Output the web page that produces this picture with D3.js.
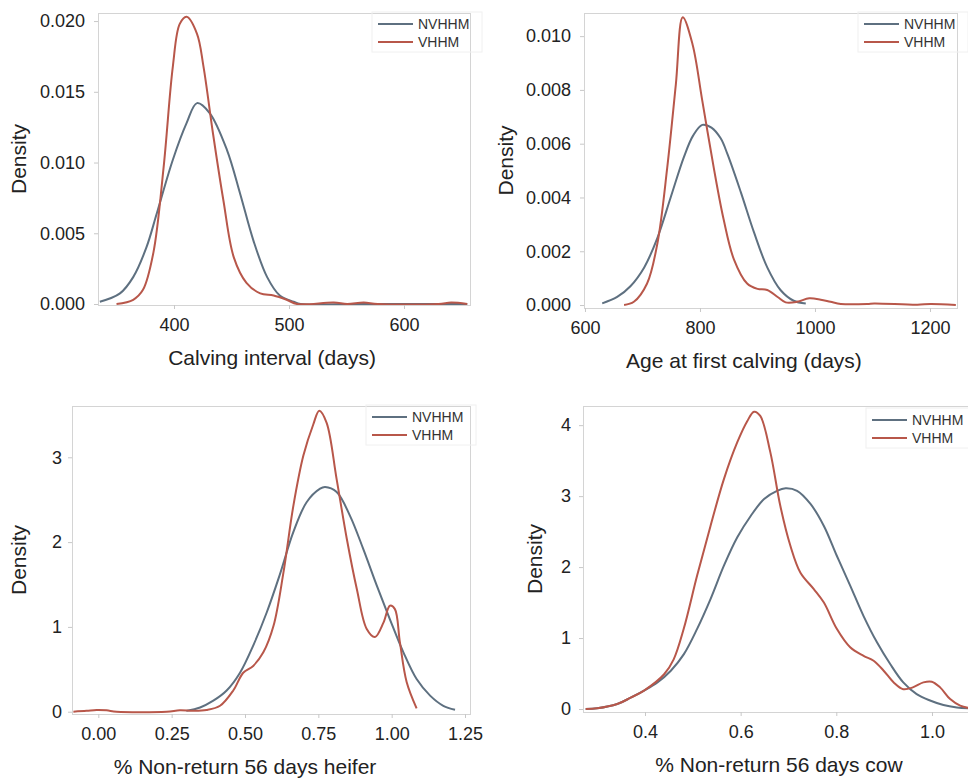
<!DOCTYPE html>
<html>
<head>
<meta charset="utf-8">
<script src="https://cdn.jsdelivr.net/npm/d3@7"></script>
<style>
  body { margin: 0; background: #fff; }
  svg { display: block; font-family: "Liberation Sans", Arial, sans-serif; }
  .frame { fill: none; stroke: #d4d4d4; stroke-width: 1; }
  .tick line { stroke: #c8c8c8; }
  .tick text { fill: #222; font-size: 18px; }
  .title { fill: #222; font-size: 21px; }
  .leg text { fill: #333; font-size: 14px; }
</style>
</head>
<body>
<div id="chart"></div>
<script>
// ---- data (x, density) ----
var seriesNames = ["NVHHM", "VHHM"];
var seriesColors = ["#5e7080", "#b8574a"];

// Calving interval (days)
var calvNV = [[335.5,0.00016],[353,0.00075],[364.5,0.0019],[376,0.004],[385,0.0064],[399,0.0102],[411,0.0128],[420,0.0142],[431,0.0135],[446,0.0109],[457.5,0.0078],[469,0.0045],[481,0.0019],[492,0.0006],[504,0.00016],[510,0],[560,0],[610,0],[655,0]];
var calvV = [[350,0],[364.5,0.0003],[373,0.001],[382,0.0036],[391,0.0097],[399,0.0168],[405,0.0198],[411,0.0203],[420,0.0191],[425.6,0.0168],[434,0.012],[443,0.0073],[452,0.0033],[463,0.0015],[475,0.00075],[486.6,0.0006],[498,0.0003],[507,0],[539,0.0001],[550.6,0],[565,0.0001],[577,0],[630,0],[641,0.0001],[655,0]];
var calvXTicks = [400, 500, 600];
var calvYTicks = [0, 0.005, 0.010, 0.015, 0.020];

// Age at first calving (days)
var afcNV = [[630,0.00006],[656,0.0003],[679,0.0007],[703,0.0014],[726,0.0025],[749,0.004],[772,0.0055],[788,0.0063],[804,0.0067],[820,0.0066],[836,0.0062],[848,0.0056],[871,0.0042],[894,0.0027],[917,0.0014],[940,0.00056],[963,0.00016],[984,0.00006]];
var afcV = [[668,0],[685,0.00012],[708,0.0008],[726,0.0023],[743,0.0051],[758,0.0082],[770,0.0107],[787,0.0097],[804,0.0076],[824,0.0051],[841,0.0032],[859,0.0017],[882,0.0008],[900,0.0006],[917,0.00056],[935,0.0003],[949,0.0001],[969,0.00012],[990,0.00025],[1010,0.0002],[1027,0.00012],[1045,0.00004],[1091,0.00004],[1103,0.00006],[1178,0.00001],[1201,0.00004],[1245,0]];
var afcXTicks = [600, 800, 1000, 1200];
var afcYTicks = [0, 0.002, 0.004, 0.006, 0.008, 0.010];

// % Non-return 56 days heifer
var heiferNV = [[0.30,0.01],[0.347,0.05],[0.392,0.13],[0.4375,0.25],[0.483,0.46],[0.528,0.78],[0.574,1.17],[0.619,1.62],[0.665,2.12],[0.710,2.47],[0.756,2.63],[0.773,2.65],[0.8125,2.59],[0.858,2.31],[0.903,1.92],[0.949,1.49],[0.994,1.09],[1.04,0.70],[1.085,0.385],[1.131,0.19],[1.176,0.07],[1.216,0.024]];
var heiferV = [[-0.085,0],[-0.04,0.01],[-0.006,0.02],[0.028,0.016],[0.0625,0],[0.233,0],[0.278,0.016],[0.324,0.01],[0.369,0.02],[0.415,0.07],[0.46,0.25],[0.494,0.46],[0.528,0.54],[0.5625,0.70],[0.597,1.01],[0.631,1.64],[0.665,2.43],[0.699,3.02],[0.733,3.39],[0.753,3.55],[0.778,3.41],[0.8125,2.74],[0.847,2.04],[0.881,1.45],[0.915,0.975],[0.943,0.88],[0.972,1.05],[0.994,1.25],[1.011,1.21],[1.028,0.82],[1.051,0.35],[1.085,0.04]];
var heiferXTicks = [0, 0.25, 0.50, 0.75, 1.00, 1.25];
var heiferYTicks = [0, 1, 2, 3];

// % Non-return 56 days cow
var cowNV = [[0.276,0],[0.30,0.01],[0.342,0.07],[0.37,0.16],[0.398,0.26],[0.426,0.375],[0.454,0.54],[0.481,0.77],[0.509,1.13],[0.537,1.55],[0.565,2.02],[0.593,2.42],[0.621,2.72],[0.649,2.96],[0.676,3.075],[0.694,3.11],[0.718,3.075],[0.746,2.89],[0.774,2.58],[0.801,2.16],[0.829,1.74],[0.857,1.31],[0.885,0.94],[0.913,0.63],[0.94,0.375],[0.968,0.21],[0.996,0.12],[1.024,0.056],[1.052,0.023],[1.08,0.01]];
var cowV = [[0.276,0],[0.30,0.01],[0.342,0.07],[0.37,0.16],[0.398,0.26],[0.44,0.49],[0.46,0.70],[0.481,1.13],[0.509,1.88],[0.537,2.58],[0.565,3.24],[0.593,3.76],[0.614,4.06],[0.628,4.19],[0.641,4.13],[0.662,3.62],[0.683,2.86],[0.704,2.30],[0.725,1.92],[0.753,1.69],[0.774,1.50],[0.801,1.13],[0.829,0.87],[0.857,0.75],[0.878,0.68],[0.899,0.54],[0.92,0.375],[0.94,0.28],[0.96,0.305],[0.982,0.375],[0.9996,0.385],[1.017,0.305],[1.038,0.14],[1.059,0.047],[1.08,0.01]];
var cowXTicks = [0.4, 0.6, 0.8, 1.0];
var cowYTicks = [0, 1, 2, 3, 4];

var W = 968, H = 778;
var svg = d3.select("#chart").append("svg").attr("width", W).attr("height", H);

/*
 * one panel: frame box, ticks, two density curves, legend
 */
function drawPanel(p, idx) {
    var x = d3.scaleLinear().domain(p.xDom).range([p.left, p.right]);
    var y = d3.scaleLinear().domain(p.yDom).range([p.bottom, p.top]);
    var g = svg.append("g");

    var clipId = "clip" + idx;
    g.append("clipPath").attr("id", clipId)
        .append("rect")
        .attr("x", p.left).attr("y", p.top)
        .attr("width", p.right - p.left).attr("height", p.bottom - p.top);

    g.append("rect").attr("class", "frame")
        .attr("x", p.left + 0.5).attr("y", p.top + 0.5)
        .attr("width", p.right - p.left).attr("height", p.bottom - p.top);

    // axes
    var xAxis = d3.axisBottom(x).tickValues(p.xTicks).tickFormat(d3.format(p.xFmt))
        .tickSize(4).tickPadding(9);
    g.append("g").attr("transform", "translate(0," + p.bottom + ")").call(xAxis)
        .call(function(a) { a.select(".domain").remove(); });

    var yAxis = d3.axisLeft(y).tickValues(p.yTicks).tickFormat(d3.format(p.yFmt))
        .tickSize(4).tickPadding(p.yPad);
    g.append("g").attr("transform", "translate(" + p.left + ",0)").call(yAxis)
        .call(function(a) { a.select(".domain").remove(); });

    g.selectAll(".tick text").style("font-family", null);

    // titles
    g.append("text").attr("class", "title")
        .attr("x", p.xTitleX).attr("y", p.bottom + 60)
        .attr("text-anchor", "middle").text(p.xTitle);
    g.append("text").attr("class", "title")
        .attr("transform", "translate(" + (p.left - p.yTitleOff) + "," + ((p.top + p.bottom) / 2) + ") rotate(-90)")
        .attr("text-anchor", "middle").text("Density");

    // curves
    var line = d3.line()
        .x(function(d) { return x(d[0]); })
        .y(function(d) { return y(d[1]); })
        .curve(d3.curveCatmullRom.alpha(0.5));

    var plot = g.append("g").attr("clip-path", "url(#" + clipId + ")");
    [p.nv, p.v].forEach(function(s, i) {
        plot.append("path").datum(s)
            .attr("d", line)
            .attr("fill", "none")
            .attr("stroke", seriesColors[i])
            .attr("stroke-width", 2)
            .attr("stroke-linejoin", "round");
    });

    // legend
    var leg = g.append("g").attr("class", "leg");
    leg.append("rect")
        .attr("x", p.legX - 6).attr("y", p.legY - 12)
        .attr("width", 110).attr("height", 40)
        .attr("fill", "none").attr("stroke", "#f0f0f0");
    seriesNames.forEach(function(name, i) {
        var ly = p.legY + i * 18;
        leg.append("line")
            .attr("x1", p.legX).attr("x2", p.legX + 35)
            .attr("y1", ly).attr("y2", ly)
            .attr("stroke", seriesColors[i]).attr("stroke-width", 2);
        leg.append("text")
            .attr("x", p.legX + 40).attr("y", ly + 5)
            .text(name);
    });
}

var panels = [
    { nv: calvNV, v: calvV, xTicks: calvXTicks, yTicks: calvYTicks, xFmt: "d", yFmt: ".3f",
      xDom: [333.9, 657.4], yDom: [-0.00007, 0.02057],
      left: 98, right: 470, top: 13, bottom: 305, yPad: 9, yTitleOff: 72,
      xTitle: "Calving interval (days)", xTitleX: 272, legX: 378, legY: 24 },
    { nv: afcNV, v: afcV, xTicks: afcXTicks, yTicks: afcYTicks, xFmt: "d", yFmt: ".3f",
      xDom: [598.3, 1247], yDom: [-0.00011, 0.01086],
      left: 584, right: 957, top: 13, bottom: 308, yPad: 9, yTitleOff: 71,
      xTitle: "Age at first calving (days)", xTitleX: 744, legX: 864, legY: 24 },
    { nv: heiferNV, v: heiferV, xTicks: heiferXTicks, yTicks: heiferYTicks, xFmt: ".2f", yFmt: "d",
      xDom: [-0.0897, 1.267], yDom: [-0.027, 3.605],
      left: 72, right: 470, top: 406, bottom: 714, yPad: 6, yTitleOff: 46,
      xTitle: "% Non-return 56 days heifer", xTitleX: 245, legX: 372, legY: 417 },
    { nv: cowNV, v: cowV, xTicks: cowXTicks, yTicks: cowYTicks, xFmt: ".1f", yFmt: "d",
      xDom: [0.2704, 1.1025], yDom: [-0.042, 4.27],
      left: 583, right: 981, top: 406, bottom: 712, yPad: 8, yTitleOff: 41,
      xTitle: "% Non-return 56 days cow", xTitleX: 779, legX: 872, legY: 420 }
];

panels.forEach(drawPanel);
</script>
</body>
</html>
